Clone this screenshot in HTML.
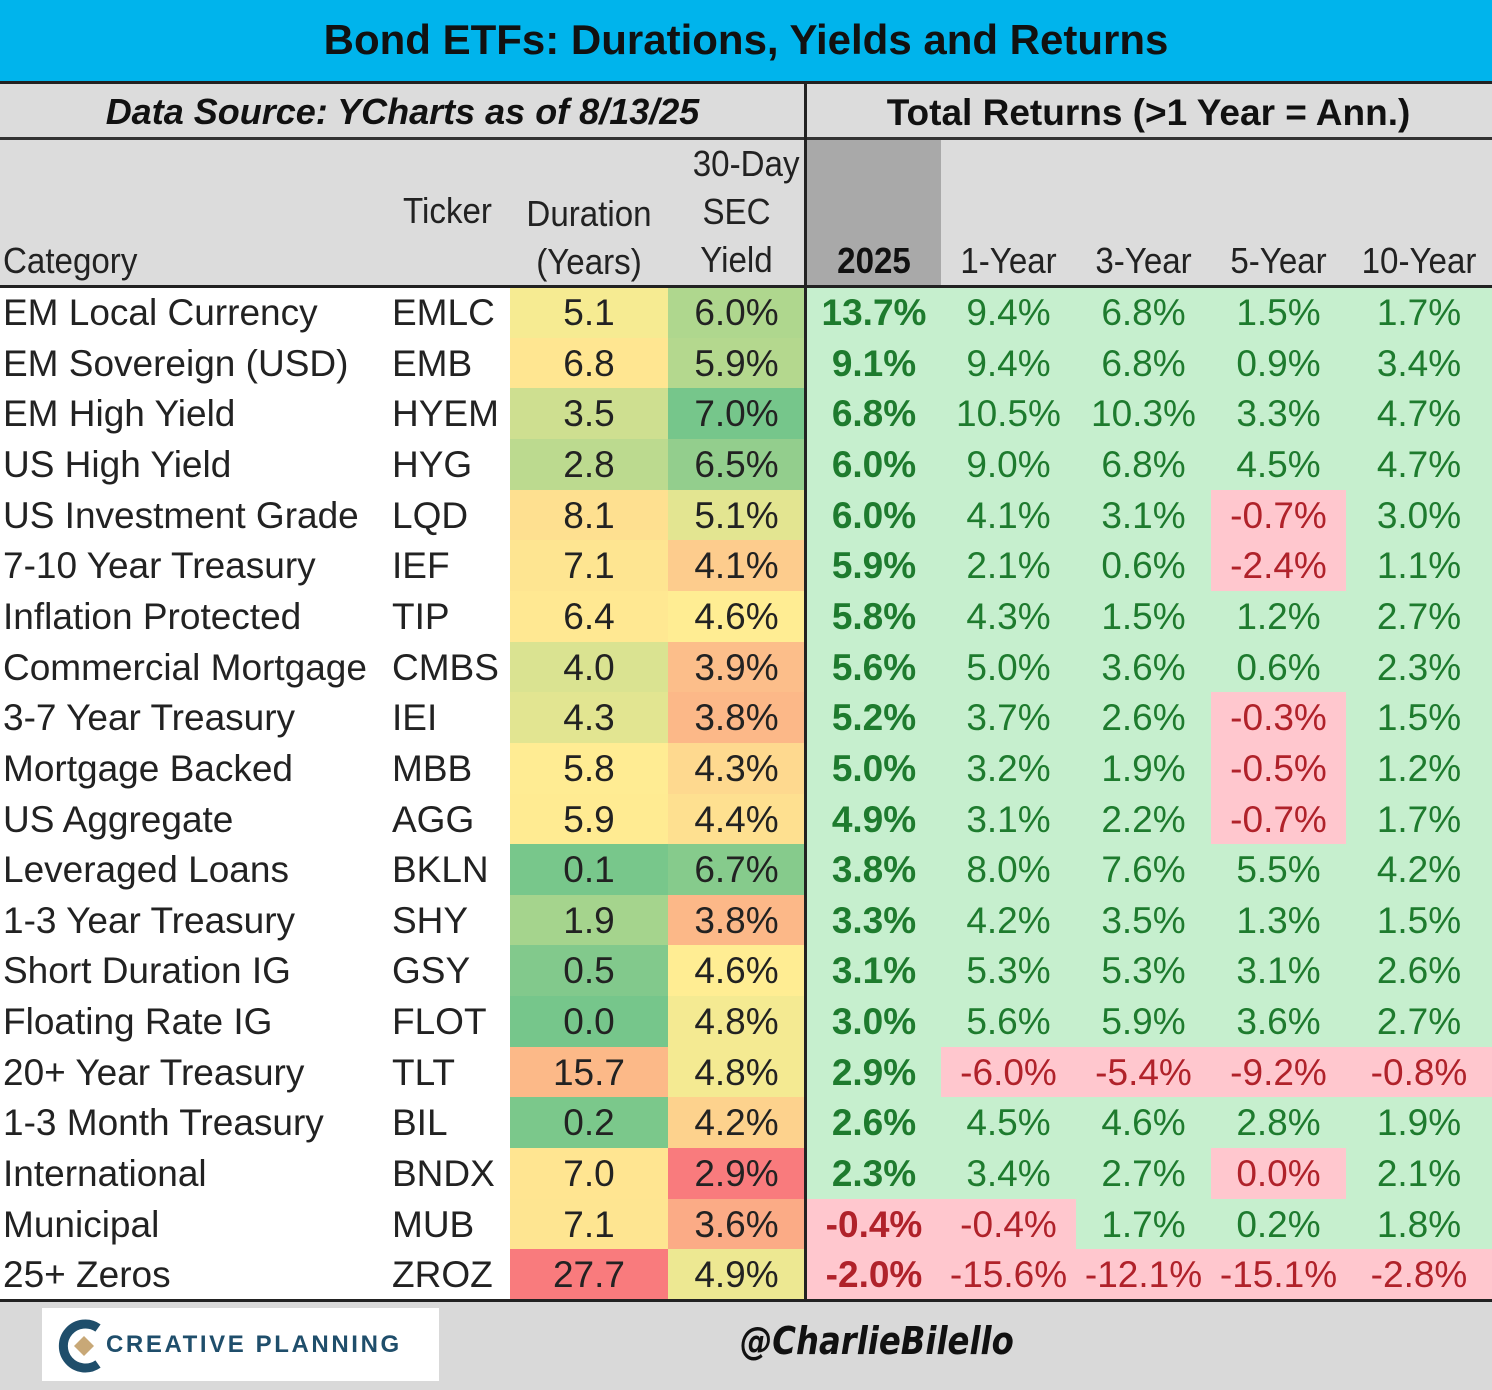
<!DOCTYPE html>
<html><head><meta charset="utf-8"><style>
body{margin:0;width:1492px;height:1390px;overflow:hidden;background:#fff;font-family:"Liberation Sans",Arial,sans-serif}
#root{position:relative;width:1492px;height:1390px}
.a{position:absolute;box-sizing:border-box}
.t{position:absolute;white-space:nowrap;line-height:1}
</style></head><body>
<div id="root">
  <div class="a" style="left:0;top:0;width:1492px;height:82px;background:#00B4EC"></div>
  <div class="t" style="left:0;width:1492px;text-align:center;top:19px;font-size:42px;font-weight:bold;color:#111">Bond ETFs: Durations, Yields and Returns</div>
  <div class="a" style="left:0;top:82px;width:1492px;height:205px;background:#DCDCDC"></div>
  <div class="a" style="left:807px;top:139px;width:134px;height:148px;background:#A9A9A9"></div>
  <div class="t" style="left:0;width:805px;text-align:center;top:94px;font-size:36px;font-weight:bold;font-style:italic;color:#111">Data Source: YCharts as of 8/13/25</div>
  <div class="t" style="left:805px;width:687px;text-align:center;top:94px;font-size:37px;font-weight:bold;color:#111">Total Returns (&gt;1 Year = Ann.)</div>
  <div class="t" style="left:3px;top:243px;font-size:36px;color:#222;transform:scaleX(0.92);transform-origin:left">Category</div>
  <div class="t" style="left:385px;width:125px;text-align:center;top:193px;font-size:36px;color:#222;transform:scaleX(0.92)">Ticker</div>
  <div class="t" style="left:510px;width:158px;text-align:center;top:190px;font-size:36px;color:#222;line-height:48px;transform:scaleX(0.92)">Duration<br>(Years)</div>
  <div class="t" style="left:668px;width:137px;text-align:right;top:140px;font-size:36px;color:#222;line-height:48px;transform:scaleX(0.92)"><div style="text-align:right">30-Day</div><div style="text-align:center">SEC</div><div style="text-align:center">Yield</div></div>
  <div class="t" style="left:807px;width:134px;text-align:center;top:243px;font-size:36px;font-weight:bold;color:#111;transform:scaleX(0.92)">2025</div>
  <div class="t" style="left:941px;width:135px;text-align:center;top:243px;font-size:36px;color:#222;transform:scaleX(0.92)">1-Year</div>
  <div class="t" style="left:1076px;width:135px;text-align:center;top:243px;font-size:36px;color:#222;transform:scaleX(0.92)">3-Year</div>
  <div class="t" style="left:1211px;width:135px;text-align:center;top:243px;font-size:36px;color:#222;transform:scaleX(0.92)">5-Year</div>
  <div class="t" style="left:1346px;width:146px;text-align:center;top:243px;font-size:36px;color:#222;transform:scaleX(0.92)">10-Year</div>
  <div id="rows"></div>
  <div class="a" style="left:0;top:1301px;width:1492px;height:89px;background:#D9D9D9"></div>
  <div class="a" style="left:42px;top:1308px;width:397px;height:73px;background:#fff">
    <svg width="60" height="60" style="position:absolute;left:12px;top:8px" viewBox="0 0 60 60"><path d="M44 12 A22 22 0 1 0 44 48" fill="none" stroke="#1F4E6B" stroke-width="9"/><polygon points="30,20 40,30 30,40 20,30" fill="#C8A877"/></svg>
    <div class="t" style="left:64px;top:25px;font-size:24px;font-weight:bold;letter-spacing:2.6px;color:#1F4E6B">CREATIVE PLANNING</div>
  </div>
  <div class="t" style="left:740px;top:1322px;font-size:38px;font-weight:bold;font-style:italic;color:#111;font-family:'DejaVu Sans',sans-serif;transform:scaleX(0.85);transform-origin:left">@CharlieBilello</div>
  <div class="a" style="left:0;top:81px;width:1492px;height:3px;background:#222"></div>
  <div class="a" style="left:0;top:137px;width:1492px;height:3px;background:#333"></div>
  <div class="a" style="left:0;top:285px;width:1492px;height:3px;background:#222"></div>
  <div class="a" style="left:0;top:1299px;width:1492px;height:3px;background:#222"></div>
  <div class="a" style="left:804px;top:82px;width:3px;height:1219px;background:#222"></div>
</div>
<script>
const categories=["EM Local Currency","EM Sovereign (USD)","EM High Yield","US High Yield","US Investment Grade","7-10 Year Treasury","Inflation Protected","Commercial Mortgage","3-7 Year Treasury","Mortgage Backed","US Aggregate","Leveraged Loans","1-3 Year Treasury","Short Duration IG","Floating Rate IG","20+ Year Treasury","1-3 Month Treasury","International","Municipal","25+ Zeros"];
const tickers=["EMLC","EMB","HYEM","HYG","LQD","IEF","TIP","CMBS","IEI","MBB","AGG","BKLN","SHY","GSY","FLOT","TLT","BIL","BNDX","MUB","ZROZ"];
const durations=[5.1,6.8,3.5,2.8,8.1,7.1,6.4,4.0,4.3,5.8,5.9,0.1,1.9,0.5,0.0,15.7,0.2,7.0,7.1,27.7];
const secYields=[6.0,5.9,7.0,6.5,5.1,4.1,4.6,3.9,3.8,4.3,4.4,6.7,3.8,4.6,4.8,4.8,4.2,2.9,3.6,4.9];
const ret2025=[13.7,9.1,6.8,6.0,6.0,5.9,5.8,5.6,5.2,5.0,4.9,3.8,3.3,3.1,3.0,2.9,2.6,2.3,-0.4,-2.0];
const ret1y=[9.4,9.4,10.5,9.0,4.1,2.1,4.3,5.0,3.7,3.2,3.1,8.0,4.2,5.3,5.6,-6.0,4.5,3.4,-0.4,-15.6];
const ret3y=[6.8,6.8,10.3,6.8,3.1,0.6,1.5,3.6,2.6,1.9,2.2,7.6,3.5,5.3,5.9,-5.4,4.6,2.7,1.7,-12.1];
const ret5y=[1.5,0.9,3.3,4.5,-0.7,-2.4,1.2,0.6,-0.3,-0.5,-0.7,5.5,1.3,3.1,3.6,-9.2,2.8,0.0,0.2,-15.1];
const ret10y=[1.7,3.4,4.7,4.7,3.0,1.1,2.7,2.3,1.5,1.2,1.7,4.2,1.5,2.6,2.7,-0.8,1.9,2.1,1.8,-2.8];
const fiveYZeroNeg=[17];

const G=[99,190,123],Y=[255,235,132],R=[248,105,107];
function mix(a,b,t){return a.map((v,i)=>Math.round(v+(b[i]-v)*t));}
function median(arr){const s=[...arr].sort((a,b)=>a-b);const n=s.length;return n%2?s[(n-1)/2]:(s[n/2-1]+s[n/2])/2;}
function scale(arr,v,lowGood){const mn=Math.min(...arr),mx=Math.max(...arr),md=median(arr);
  let lo=lowGood?G:R,hi=lowGood?R:G,c;
  if(v<=md)c=mix(lo,Y,(v-mn)/(md-mn||1));else c=mix(Y,hi,(v-md)/(mx-md||1));
  c=mix(c,[255,255,255],0.12);return 'rgb('+c.join(',')+')';}
const rowTop=287,rowH=50.65;
const root=document.getElementById('rows');
function cell(x,y,w,h,bg,name){const d=document.createElement('div');d.className='a';d.style.cssText=`left:${x}px;top:${y}px;width:${w}px;height:${h}px;background:${bg}`;
  
  
  root.appendChild(d);return d;}
function txt(x,y,w,h,s,align,color,bold,name){const d=document.createElement('div');d.className='t';
  d.style.cssText=`left:${x}px;top:${y}px;width:${w}px;height:${h}px;line-height:${h}px;text-align:${align};font-size:37px;color:${color};font-weight:${bold?'bold':'normal'}`;
  d.textContent=s;
  
  
  root.appendChild(d);}
const retCols=[[ret2025,807,134,'2025'],[ret1y,941,135,'1y'],[ret3y,1076,135,'3y'],[ret5y,1211,135,'5y'],[ret10y,1346,146,'10y']];
categories.forEach((c,i)=>{
  const y=rowTop+i*rowH,h=rowH+0.6;
  txt(3,y,380,h,c,'left','#222',false,'category-'+i);
  txt(392,y,120,h,tickers[i],'left','#222',false,'ticker-'+i);
  cell(510,y,158,h,scale(durations,durations[i],true),'duration-cell-'+i);
  txt(510,y,158,h,durations[i].toFixed(1),'center','#222',false,'duration-value-'+i);
  cell(668,y,137,h,scale(secYields,secYields[i],false),'yield-cell-'+i);
  txt(668,y,137,h,secYields[i].toFixed(1)+'%','center','#222',false,'yield-value-'+i);
  retCols.forEach(([arr,x,w,k])=>{const v=arr[i];const neg=v<0||(k==='5y'&&fiveYZeroNeg.includes(i));
    cell(x,y,w,h,neg?'#FFC7CE':'#C6EFCE','return-'+k+'-cell-'+i);
    txt(x,y,w,h,v.toFixed(1)+'%','center',neg?'#B0222A':'#1E7B2E',k==='2025','return-'+k+'-value-'+i);});
});
</script>
</body></html>
